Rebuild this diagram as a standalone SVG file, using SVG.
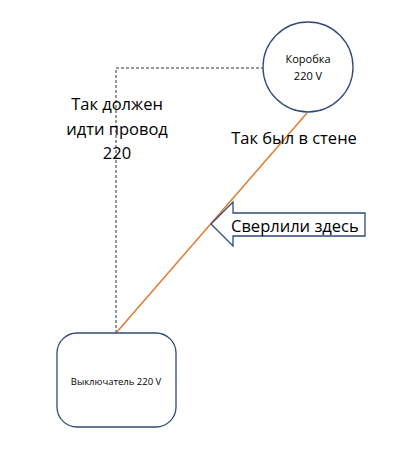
<svg xmlns="http://www.w3.org/2000/svg" width="400" height="454" viewBox="0 0 400 454">
<style>
text{font-family:"Open Sans","Liberation Sans",sans-serif;fill:#000}
.node{fill:#fff;stroke:#2f4a7a;stroke-width:1.3}
.big{font-size:16.5px}
</style>
<rect width="400" height="454" fill="#fff"/>
<g id="connectors">
<polyline points="264,68 116,68 116,333" fill="none" stroke="#333" stroke-width="1" stroke-dasharray="3,2"/>
<line x1="307" y1="113" x2="116" y2="333" stroke="#e07b30" stroke-width="1.5"/>
</g>
<g id="box">
<circle class="node" cx="308" cy="67" r="45"/>
<text x="308" y="63" font-size="11" text-anchor="middle">Коробка</text>
<text x="308" y="80" font-size="11" text-anchor="middle">220 V</text>
</g>
<g id="switch">
<rect class="node" x="57" y="333" width="119" height="94" rx="20"/>
<text x="116" y="385" font-size="9.5" text-anchor="middle">Выключатель 220 V</text>
</g>
<g id="callout">
<polygon class="node" points="211,224 233,202 233,213 365,213 365,236 233,236 233,246"/>
<text x="231" y="232" class="big">Сверлили здесь</text>
</g>
<text x="117" y="110" class="big" text-anchor="middle">Так должен</text>
<text x="117" y="135" class="big" text-anchor="middle">идти провод</text>
<text x="117" y="159" class="big" text-anchor="middle">220</text>
<text x="294" y="144" class="big" text-anchor="middle">Так был в стене</text>
</svg>
